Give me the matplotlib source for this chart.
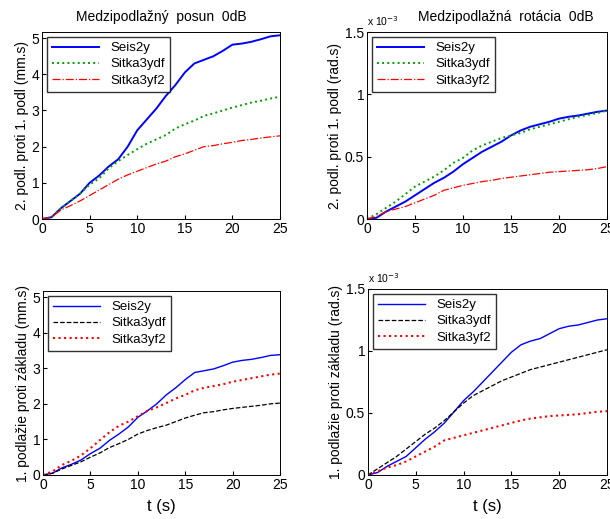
import numpy as np
import matplotlib.pyplot as plt

plt.rcParams['font.family'] = ['Liberation Sans', 'DejaVu Sans']
plt.rcParams['font.size'] = 9

t = [0, 1, 2, 3, 4, 5, 6, 7, 8, 9, 10, 11, 12, 13, 14, 15, 16, 17, 18, 19, 20, 21, 22, 23, 24, 25]

# top left - interstory displacement (mm.s)
tl_seis = [0, 0.05, 0.3, 0.5, 0.7, 1.0, 1.2, 1.45, 1.65, 2.0, 2.45, 2.75, 3.05, 3.4, 3.7, 4.05, 4.3, 4.4, 4.5, 4.65, 4.82, 4.85, 4.9, 4.97, 5.05, 5.08]
tl_ydf = [0, 0.05, 0.3, 0.5, 0.7, 0.95, 1.12, 1.4, 1.6, 1.77, 1.93, 2.08, 2.2, 2.32, 2.5, 2.62, 2.72, 2.85, 2.92, 3.0, 3.08, 3.15, 3.22, 3.27, 3.33, 3.38]
tl_yf2 = [0, 0.05, 0.25, 0.37, 0.5, 0.65, 0.8, 0.95, 1.1, 1.22, 1.32, 1.42, 1.52, 1.6, 1.72, 1.8, 1.9, 2.0, 2.03, 2.08, 2.12, 2.17, 2.2, 2.24, 2.27, 2.3]

# top right - interstory rotation (x1e-3 rad.s)
tr_seis = [0, 0.01, 0.06, 0.1, 0.14, 0.19, 0.24, 0.29, 0.33, 0.38, 0.44, 0.49, 0.54, 0.58, 0.62, 0.67, 0.71, 0.74, 0.76, 0.78, 0.805, 0.82, 0.83, 0.845, 0.86, 0.87]
tr_ydf = [0, 0.04, 0.09, 0.14, 0.2, 0.26, 0.3, 0.34, 0.39, 0.45, 0.49, 0.55, 0.59, 0.62, 0.65, 0.67, 0.69, 0.72, 0.74, 0.76, 0.78, 0.8, 0.82, 0.835, 0.85, 0.87]
tr_yf2 = [0, 0.02, 0.06, 0.08, 0.1, 0.13, 0.16, 0.19, 0.23, 0.25, 0.27, 0.285, 0.3, 0.31, 0.325, 0.335, 0.345, 0.355, 0.365, 0.375, 0.38, 0.385, 0.39, 0.395, 0.405, 0.42]

# bottom left - 1st floor vs base (mm.s)
bl_seis = [0, 0.05, 0.2, 0.3, 0.42, 0.6, 0.75, 0.97, 1.15, 1.35, 1.62, 1.8, 2.0, 2.25, 2.45, 2.68, 2.88, 2.93, 2.98, 3.07, 3.17, 3.22, 3.25, 3.3, 3.36, 3.38]
bl_ydf = [0, 0.05, 0.17, 0.27, 0.37, 0.5, 0.62, 0.77, 0.88, 1.0, 1.15, 1.25, 1.33, 1.4, 1.5, 1.6, 1.68, 1.75, 1.78, 1.83, 1.87, 1.9, 1.93, 1.96, 2.0, 2.02]
bl_yf2 = [0, 0.1, 0.28, 0.4, 0.55, 0.75, 0.98, 1.2, 1.38, 1.5, 1.65, 1.8, 1.9, 2.02, 2.15, 2.25, 2.38, 2.45, 2.5, 2.55, 2.62, 2.67, 2.72, 2.77, 2.82, 2.85]

# bottom right - 1st floor rotation vs base (x1e-3 rad.s)
br_seis = [0, 0.02, 0.07, 0.11, 0.15, 0.22, 0.29, 0.35, 0.42, 0.51, 0.6, 0.67, 0.75, 0.83, 0.91, 0.99, 1.05, 1.08, 1.1, 1.14, 1.18, 1.2, 1.21, 1.23, 1.25, 1.26]
br_ydf = [0, 0.05, 0.1, 0.15, 0.21, 0.27, 0.33, 0.38, 0.44, 0.51, 0.58, 0.64, 0.68, 0.72, 0.76, 0.79, 0.82, 0.85, 0.87, 0.89, 0.91, 0.93, 0.95, 0.97, 0.99, 1.01]
br_yf2 = [0, 0.03, 0.06, 0.08, 0.11, 0.15, 0.19, 0.23, 0.28, 0.3, 0.32, 0.34, 0.36, 0.38, 0.4, 0.42, 0.44, 0.455, 0.465, 0.475, 0.48, 0.485, 0.49, 0.5, 0.51, 0.515]

names = ['Seis2y', 'Sitka3ydf', 'Sitka3yf2']

fig = plt.figure(figsize=(6.1, 5.19), dpi=100)
W, H = 610, 519

def add_ax(l, t_, r, b):
    return fig.add_axes([l / W, 1 - b / H, (r - l) / W, (b - t_) / H])

ax1 = add_ax(42, 32, 280, 219)
ax2 = add_ax(367, 32, 607, 219)
ax3 = add_ax(43, 291, 280, 475)
ax4 = add_ax(368, 289, 607, 475)

top_styles = [dict(color='#0000ff', ls='-', lw=1.4),
              dict(color='#00a000', ls=':', lw=1.4),
              dict(color='#ff0000', ls='-.', lw=0.9)]
bot_styles = [dict(color='#0000ff', ls='-', lw=1.0),
              dict(color='black', ls='--', lw=0.9),
              dict(color='#ff0000', ls=':', lw=1.5)]

def draw(ax, series, styles, ymax, yticks, yticklabels, ylabel):
    for y, name, st in zip(series, names, styles):
        ax.plot(t, y, label=name, **st)
    ax.set_xlim(0, 25)
    ax.set_ylim(0, ymax)
    ax.set_xticks([0, 5, 10, 15, 20, 25])
    ax.set_yticks(yticks)
    ax.set_yticklabels(yticklabels)
    ax.tick_params(direction='in', length=3, labelsize=10, pad=2)
    ax.set_ylabel(ylabel, fontsize=10, labelpad=2)
    ax.legend(loc='upper left', fontsize=9.5, frameon=True, fancybox=False,
              edgecolor='black', handlelength=3.6, borderpad=0.4,
              labelspacing=0.3, borderaxespad=0.35)
    for s in ax.spines.values():
        s.set_linewidth(0.7)

draw(ax1, [tl_seis, tl_ydf, tl_yf2], top_styles, 5.17, [0, 1, 2, 3, 4, 5], ['0', '1', '2', '3', '4', '5'],
     '2. podl. proti 1. podl (mm.s)')
draw(ax2, [tr_seis, tr_ydf, tr_yf2], top_styles, 1.5, [0, 0.5, 1, 1.5], ['0', '0.5', '1', '1.5'],
     '2. podl. proti 1. podl (rad.s)')
draw(ax3, [bl_seis, bl_ydf, bl_yf2], bot_styles, 5.17, [0, 1, 2, 3, 4, 5], ['0', '1', '2', '3', '4', '5'],
     '1. podlažie proti základu (mm.s)')
draw(ax4, [br_seis, br_ydf, br_yf2], bot_styles, 1.5, [0, 0.5, 1, 1.5], ['0', '0.5', '1', '1.5'],
     '1. podlažie proti základu (rad.s)')

ax1.set_title('Medzipodlažný  posun  0dB', fontsize=10, pad=8)
ax2.set_title('Medzipodlažná  rotácia  0dB', fontsize=10, pad=8, x=0.58)
ax3.set_xlabel('t (s)', fontsize=12, labelpad=5)
ax4.set_xlabel('t (s)', fontsize=12, labelpad=5)

for ax in (ax2, ax4):
    ax.text(0.0, 1.02, 'x 10$^{-3}$', transform=ax.transAxes, fontsize=7.5, ha='left', va='bottom')

fig.savefig('out.png', dpi=100)
